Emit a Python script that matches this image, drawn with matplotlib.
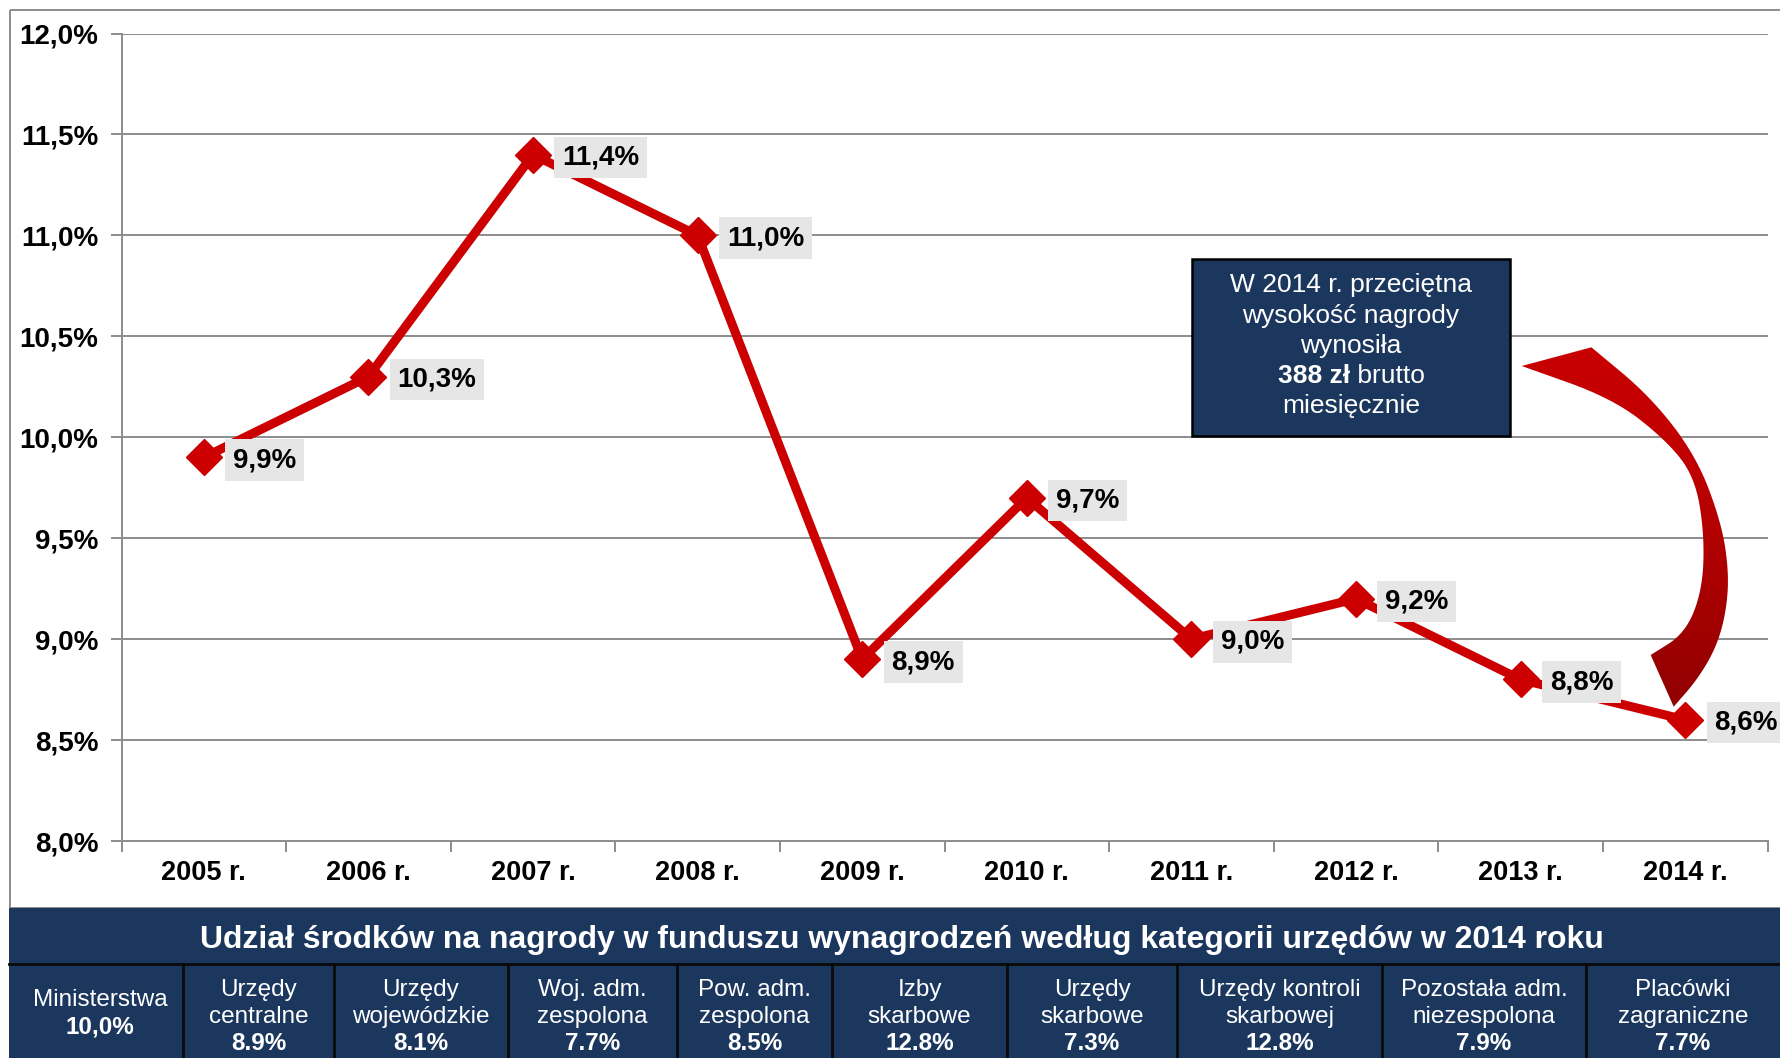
import matplotlib
matplotlib.use('Agg')
import matplotlib.pyplot as plt
import numpy as np
from matplotlib.patches import Rectangle, Polygon
from matplotlib.colors import LinearSegmentedColormap
from matplotlib.ticker import FuncFormatter

plt.rcParams['font.family'] = ['Liberation Sans', 'DejaVu Sans']

# --- data ---
years = ['2005 r.', '2006 r.', '2007 r.', '2008 r.', '2009 r.',
         '2010 r.', '2011 r.', '2012 r.', '2013 r.', '2014 r.']
share = [9.9, 10.3, 11.4, 11.0, 8.9, 9.7, 9.0, 9.2, 8.8, 8.6]

table_title = 'Udział środków na nagrody w funduszu wynagrodzeń według kategorii urzędów w 2014 roku'
office_types = ['Ministerstwa', 'Urzędy\ncentralne', 'Urzędy\nwojewódzkie', 'Woj. adm.\nzespolona',
                'Pow. adm.\nzespolona', 'Izby\nskarbowe', 'Urzędy\nskarbowe', 'Urzędy kontroli\nskarbowej',
                'Pozostała adm.\nniezespolona', 'Placówki\nzagraniczne']
office_share = [10.0, 8.9, 8.1, 7.7, 8.5, 12.8, 7.3, 12.8, 7.9, 7.7]

note_lines = ['W 2014 r. przeciętna', 'wysokość nagrody', 'wynosiła']
note_amount = '388 zł'
note_tail = [' brutto', 'miesięcznie']

RED = '#cc0000'
NAVY = '#1c375e'
GRAY = '#8c8c8c'
W, H = 1780, 1058

fig = plt.figure(figsize=(W / 100, H / 100), dpi=100)

# main chart axes, placed in pixel coordinates
left, right, top, bottom = 121.5, 1767.5, 33.5, 841
ax = fig.add_axes([left / W, (H - bottom) / H, (right - left) / W, (bottom - top) / H])
x = np.arange(len(years))
ax.plot(x, share, color=RED, lw=6.5, marker='D', ms=18, mec=RED, mfc=RED, zorder=4, clip_on=False)
ax.set_xlim(-0.5, len(years) - 0.5)
ax.set_ylim(8, 12)
ax.set_yticks(np.arange(8, 12.01, 0.5))
ax.yaxis.set_major_formatter(FuncFormatter(lambda v, p: f'{v:.1f}%'.replace('.', ',')))
ax.grid(axis='y', color=GRAY, lw=1.4)
ax.set_axisbelow(True)
for s in ['top', 'right']:
    ax.spines[s].set_visible(False)
for s in ['left', 'bottom']:
    ax.spines[s].set_color(GRAY)
    ax.spines[s].set_linewidth(1.4)
ax.tick_params(axis='y', length=8, width=1.4, color=GRAY, pad=8.5, labelsize=20)
ax.set_xticks(np.arange(-0.5, len(years)), labels=[])
ax.tick_params(axis='x', which='major', length=8, width=1.4, color=GRAY)
ax.set_xticks(x, labels=years, minor=True)
ax.tick_params(axis='x', which='minor', length=0, pad=14, labelsize=19.5)
for lab in ax.get_yticklabels() + ax.get_xticklabels(minor=True):
    lab.set_fontweight('bold')

for xi, v in zip(x, share):
    ax.annotate(f'{v:.1f}%'.replace('.', ','), (xi, v), xytext=(21, -2), textcoords='offset points',
                ha='left', va='center', fontsize=20, fontweight='bold', annotation_clip=False,
                bbox=dict(boxstyle='square,pad=0.28', fc='#e6e6e6', ec='none'), zorder=6)

# overlay axes in pixel coordinates for the frame, callout, arrow and table
ov = fig.add_axes([0, 0, 1, 1])
ov.set_axis_off()
ov.patch.set_alpha(0)

# outer frame
ov.add_patch(Rectangle((10, 10), 1800, 898, fc='none', ec=GRAY, lw=1.4, zorder=1))

# callout box
ov.add_patch(Rectangle((1192, 259), 318, 177, fc=NAVY, ec='black', lw=1.8, zorder=7))
cx = 1351
line_y = [285, 315.5, 346, 376, 406]
for t, yy in zip(note_lines, line_y[:3]):
    ov.text(cx, yy, t, ha='center', va='center', color='white', fontsize=19, zorder=8)
ov.text(cx, line_y[4], note_tail[1], ha='center', va='center', color='white', fontsize=19, zorder=8)
fig.canvas.draw()
r = fig.canvas.get_renderer()
t1 = ov.text(0, line_y[3], note_amount, ha='left', va='center', color='white', fontsize=19,
             fontweight='bold', zorder=8)
t2 = ov.text(0, line_y[3], note_tail[0], ha='left', va='center', color='white', fontsize=19, zorder=8)
w1 = t1.get_window_extent(r).width
w2 = t2.get_window_extent(r).width
x0 = cx - (w1 + w2) / 2
t1.set_x(x0)
t2.set_x(x0 + w1)


# curved arrow
def chaikin(pts, n=3):
    pts = np.asarray(pts, float)
    for _ in range(n):
        new = [pts[0]]
        for a, b in zip(pts[:-1], pts[1:]):
            new.append(0.75 * a + 0.25 * b)
            new.append(0.25 * a + 0.75 * b)
        new.append(pts[-1])
        pts = np.array(new)
    return pts


inner = chaikin([(1521.7, 366), (1612.5, 398.3), (1666, 440), (1694.7, 476.7), (1704.3, 533.3),
                 (1702.4, 590), (1685.2, 633.3), (1650.7, 655)])
outer = chaikin([(1673.7, 706.7), (1697, 680), (1716, 648), (1726, 613), (1729, 573),
                 (1721.5, 523), (1696.6, 456.7), (1650.7, 396.7), (1591.4, 347.3)])
arrow_pts = np.vstack([inner, outer])
poly = Polygon(arrow_pts, closed=True, fc='none', ec='none', zorder=5)
ov.add_patch(poly)
cmap = LinearSegmentedColormap.from_list('arr', ['#c80000', '#c00000', '#a80000', '#900000'])
grad = np.linspace(0, 1, 256).reshape(-1, 1)
im = ov.imshow(grad, extent=(1515, 1735, 712, 340), cmap=cmap, aspect='auto', zorder=5)
im.set_clip_path(poly)

# table panel
ov.add_patch(Rectangle((9, 908), 1800, 200, fc=NAVY, ec='none', zorder=2))
ov.text(902, 940, table_title, ha='center', va='center', color='white', fontsize=23,
        fontweight='bold', zorder=3)
ov.plot([9, 1780], [964, 964], color='#0a0a0a', lw=2, zorder=3)
bounds = [9, 183, 334, 508, 677, 832, 1007, 1177, 1382, 1586, 1780]
for b in bounds[1:-1]:
    ov.plot([b, b], [964, 1060], color='#0a0a0a', lw=2, zorder=3)
for i, (name, v) in enumerate(zip(office_types, office_share)):
    mid = (bounds[i] + bounds[i + 1]) / 2
    if i == 0:
        mid += 4
    val = f'{v:.1f}%'
    if i == 0:
        val = val.replace('.', ',')
    lines = name.split('\n')
    ys = [1000] if len(lines) == 1 else [990, 1017]
    vy = 1027 if len(lines) == 1 else 1044
    for t, yy in zip(lines, ys):
        ov.text(mid, yy, t, ha='center', va='center', color='white', fontsize=17.5, zorder=3)
    ov.text(mid, vy, val, ha='center', va='center', color='white', fontsize=17.5,
            fontweight='bold', zorder=3)

ov.set_xlim(0, W)
ov.set_ylim(H, 0)

fig.savefig('out.png', dpi=100)
